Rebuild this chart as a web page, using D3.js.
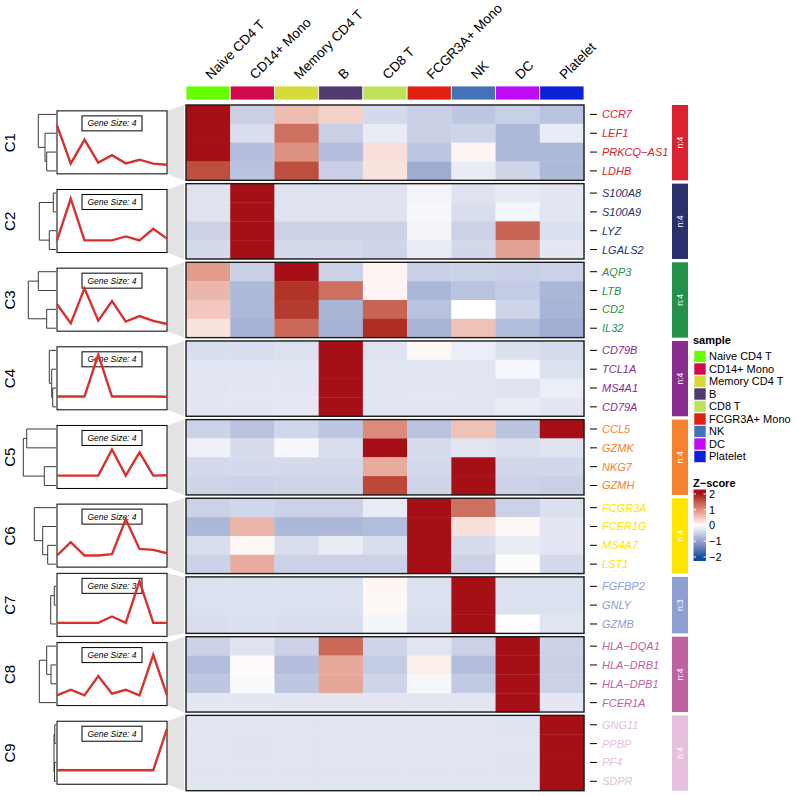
<!DOCTYPE html>
<html>
<head>
<meta charset="utf-8">
<script src="https://cdn.jsdelivr.net/npm/d3@7"></script>
<style>
  html, body { margin: 0; padding: 0; background: #fff; }
  svg { display: block; font-family: "Liberation Sans", Arial, Helvetica, sans-serif; }
</style>
</head>
<body>
<svg id="chart" width="798" height="796"></svg>
<script>
// ---------------- DATA ----------------
const samples = ["Naive CD4 T", "CD14+ Mono", "Memory CD4 T", "B", "CD8 T", "FCGR3A+ Mono", "NK", "DC", "Platelet"];
const sampleColors = ["#66FF00", "#D10A4C", "#D4DB3A", "#4F3A72", "#BEE35A", "#E02010", "#4472B6", "#C10BF7", "#0C20D8"];

const clusterNames = ["C1", "C2", "C3", "C4", "C5", "C6", "C7", "C8", "C9"];
const clusterColors = ["#DC2230", "#2B2F6C", "#23914A", "#8A2D8F", "#F5822E", "#FFE400", "#8C9ED2", "#BE62A2", "#E6C0DD"];

const clusterGenes = [
  ["CCR7", "LEF1", "PRKCQ\u2212AS1", "LDHB"],
  ["S100A8", "S100A9", "LYZ", "LGALS2"],
  ["AQP3", "LTB", "CD2", "IL32"],
  ["CD79B", "TCL1A", "MS4A1", "CD79A"],
  ["CCL5", "GZMK", "NKG7", "GZMH"],
  ["FCGR3A", "FCER1G", "MS4A7", "LST1"],
  ["FGFBP2", "GNLY", "GZMB"],
  ["HLA\u2212DQA1", "HLA\u2212DRB1", "HLA\u2212DPB1", "FCER1A"],
  ["GNG11", "PPBP", "PF4", "SDPR"]
];

// z-scores, rows = genes (cluster order), columns = samples
const zC1 = [
  [2.5, -0.5, 0.6, 0.4, -0.4, -0.5, -0.6, -0.5, -0.65],
  [2.5, -0.35, 1.3, -0.5, -0.2, -0.5, -0.45, -0.75, -0.2],
  [2.5, -0.7, 1.0, -0.7, 0.3, -0.6, 0.08, -0.75, -0.75],
  [1.6, -0.65, 1.6, -0.5, 0.25, -0.9, -0.2, -0.45, -0.75]
];
const zC2 = [
  [-0.3, 2.6, -0.3, -0.3, -0.3, -0.12, -0.3, -0.22, -0.25],
  [-0.3, 2.6, -0.3, -0.3, -0.3, -0.08, -0.35, -0.1, -0.27],
  [-0.48, 2.6, -0.48, -0.48, -0.48, -0.12, -0.48, 1.4, -0.33],
  [-0.4, 2.6, -0.4, -0.4, -0.45, -0.2, -0.42, 0.85, -0.25]
];
const zC3 = [
  [0.9, -0.5, 2.5, -0.48, 0.1, -0.5, -0.48, -0.5, -0.47],
  [0.65, -0.75, 1.8, 1.3, 0.08, -0.78, -0.65, -0.55, -0.78],
  [0.5, -0.75, 1.75, -0.8, 1.4, -0.65, 0.0, -0.45, -0.8],
  [0.25, -0.82, 1.35, -0.82, 1.85, -0.8, 0.55, -0.72, -0.88]
];
const zC4 = [
  [-0.35, -0.35, -0.32, 2.6, -0.3, 0.07, -0.18, -0.33, -0.38],
  [-0.27, -0.27, -0.27, 2.6, -0.27, -0.27, -0.28, -0.07, -0.32],
  [-0.26, -0.25, -0.25, 2.6, -0.26, -0.25, -0.26, -0.3, -0.18],
  [-0.25, -0.25, -0.24, 2.6, -0.26, -0.25, -0.26, -0.2, -0.25]
];
const zC5 = [
  [-0.47, -0.65, -0.43, -0.6, 1.05, -0.65, 0.55, -0.62, 2.6],
  [-0.15, -0.37, -0.07, -0.35, 2.6, -0.38, -0.28, -0.34, -0.3],
  [-0.4, -0.4, -0.4, -0.4, 0.75, -0.4, 2.6, -0.42, -0.42],
  [-0.45, -0.48, -0.45, -0.45, 1.65, -0.45, 2.1, -0.47, -0.5]
];
const zC6 = [
  [-0.48, -0.43, -0.48, -0.48, -0.2, 2.6, 1.3, -0.48, -0.33],
  [-0.77, 0.68, -0.77, -0.77, -0.72, 2.6, 0.27, 0.07, -0.25],
  [-0.35, 0.06, -0.35, -0.2, -0.35, 2.6, -0.37, -0.2, -0.25],
  [-0.47, 0.75, -0.48, -0.48, -0.48, 2.6, -0.48, 0.03, -0.4]
];
const zC7 = [
  [-0.32, -0.32, -0.32, -0.32, 0.08, -0.32, 2.6, -0.32, -0.32],
  [-0.32, -0.32, -0.32, -0.32, 0.07, -0.32, 2.6, -0.32, -0.32],
  [-0.35, -0.34, -0.35, -0.35, -0.1, -0.35, 2.6, 0.0, -0.28]
];
const zC8 = [
  [-0.48, -0.3, -0.48, 1.35, -0.45, -0.28, -0.48, 2.6, -0.47],
  [-0.7, 0.04, -0.7, 0.78, -0.55, 0.15, -0.7, 2.6, -0.5],
  [-0.6, -0.05, -0.6, 0.8, -0.45, -0.08, -0.57, 2.6, -0.48],
  [-0.25, -0.25, -0.26, -0.26, -0.26, -0.26, -0.26, 2.6, -0.25]
];
const zC9 = [
  [-0.28, -0.28, -0.28, -0.28, -0.28, -0.28, -0.28, -0.29, 2.6],
  [-0.28, -0.29, -0.28, -0.28, -0.28, -0.28, -0.28, -0.28, 2.6],
  [-0.28, -0.28, -0.28, -0.28, -0.28, -0.28, -0.28, -0.29, 2.6],
  [-0.28, -0.28, -0.28, -0.28, -0.28, -0.28, -0.28, -0.28, 2.6]
];
const clusterZ = [zC1, zC2, zC3, zC4, zC5, zC6, zC7, zC8, zC9];

// summary line (per cluster, per sample)
const lineC1 = [2.27, -0.47, 1.24, -0.4, 0.13, -0.45, -0.19, -0.47, -0.55];
const lineC2 = [-0.33, 2.65, -0.33, -0.33, -0.33, -0.05, -0.33, 0.5, -0.21];
const lineC3 = [0.72, -0.64, 1.86, -0.45, 0.95, -0.52, -0.12, -0.47, -0.69];
const lineC4 = [-0.25, -0.25, -0.25, 2.75, -0.25, -0.25, -0.25, -0.25, -0.27];
const lineC5 = [-0.28, -0.28, -0.28, -0.28, 1.58, -0.28, 1.38, -0.28, -0.26];
const lineC6 = [-0.37, 0.58, -0.37, -0.37, -0.28, 2.22, 0.1, 0.03, -0.21];
const lineC7 = [-0.24, -0.24, -0.24, -0.24, 0.22, -0.24, 2.75, -0.24, -0.24];
const lineC8 = [-0.47, -0.07, -0.47, 0.91, -0.35, -0.07, -0.47, 2.43, -0.47];
const lineC9 = [-0.2, -0.2, -0.2, -0.2, -0.2, -0.2, -0.2, -0.2, 2.75];
const clusterLines = [lineC1, lineC2, lineC3, lineC4, lineC5, lineC6, lineC7, lineC8, lineC9];

// dendrograms: [height, left, right], leaves = row indices
const dendroC1 = [17.7, 0, [11, 1, [9.3, 2, 3]]];
const dendroC2 = [16.7, [2.7, 0, 1], [6.7, 2, 3]];
const dendroC3 = [27.7, [17.7, 0, 1], [9.3, 2, 3]];
const dendroC4 = [6.7, 0, [4.3, 1, [3.3, 2, 3]]];
const dendroC5 = [32.7, [29.3, 0, 1], [11.7, 2, 3]];
const dendroC6 = [21.7, 0, [13.3, 1, [8.3, 2, 3]]];
const dendroC7 = [5.3, [1.7, 0, 1], 2];
const dendroC8 = [16.7, [9.3, 0, [5, 1, 2]], 3];
const dendroC9 = [2, [1.2, 0, 1], [1.5, 2, 3]];
const clusterDendro = [dendroC1, dendroC2, dendroC3, dendroC4, dendroC5, dendroC6, dendroC7, dendroC8, dendroC9];

const zTicks = [2, 1, 0, -1, -2];
const zTickLabels = ["2", "1", "0", "\u22121", "\u22122"];

// ---------------- DRAW ----------------
const svg = d3.select("#chart");
const fontMain = "'Liberation Sans', Arial, Helvetica, sans-serif";

const color = d3.scaleLinear().domain([-2, 0, 2])
  .range(["#08519C", "#FFFFFF", "#A50F15"])
  .interpolate(d3.interpolateLab).clamp(true);

const x = d3.scaleBand().domain(samples).range([186, 584]);

// slice layout
const top0 = 105, rowH = 18.83, gap = 3.33;
let acc = 0;
const slices = clusterGenes.map((g, i) => {
  const t = top0 + acc * rowH + i * gap;
  acc += g.length;
  const y = d3.scaleBand().domain(d3.range(g.length)).range([t, t + g.length * rowH]);
  return { top: t, bottom: t + g.length * rowH, y, i };
});

// column annotation
svg.append("g").selectAll("rect").data(samples).join("rect")
  .attr("x", d => x(d)).attr("y", 86).attr("width", x.bandwidth()).attr("height", 14)
  .attr("fill", (d, i) => sampleColors[i]).attr("stroke", "#fff").attr("stroke-width", 0.8);

// column labels
svg.append("g").selectAll("text").data(samples).join("text")
  .attr("transform", d => `translate(${x(d) + x.bandwidth() / 2 + 3},80) rotate(-45)`)
  .attr("font-size", 13.5).attr("font-family", fontMain).attr("fill", "#000")
  .text(d => d);

// line panel geometry
const px = d3.scalePoint().domain(samples).range([57, 167]);
const panelH = 63;
const dx = d3.scaleLinear().domain([0, 33]).range([56, 23]);

slices.forEach(s => {
  const ci = s.i;
  const g = svg.append("g");
  const rows = clusterZ[ci];
  // heatmap cells
  rows.forEach((row, r) => {
    g.selectAll(null).data(row).join("rect")
      .attr("x", (d, j) => x(samples[j])).attr("y", s.y(r))
      .attr("width", x.bandwidth() + 0.3).attr("height", s.y.bandwidth() + 0.3)
      .attr("fill", d => color(d));
  });
  g.append("rect").attr("x", 186).attr("y", s.top).attr("width", 398).attr("height", s.bottom - s.top)
    .attr("fill", "none").attr("stroke", "#1a1a1a").attr("stroke-width", 1.4);

  // gene ticks + labels
  clusterGenes[ci].forEach((gn, r) => {
    const cy = s.y(r) + s.y.bandwidth() / 2;
    g.append("line").attr("x1", 590).attr("x2", 597).attr("y1", cy).attr("y2", cy)
      .attr("stroke", "#000").attr("stroke-width", 1);
    g.append("text").attr("x", 602).attr("y", cy).attr("dy", "0.36em")
      .attr("font-size", 11).attr("font-style", "italic").attr("font-family", fontMain)
      .attr("fill", clusterColors[ci]).text(gn);
  });

  // cluster annotation bar
  g.append("rect").attr("x", 672).attr("y", s.top).attr("width", 16).attr("height", s.bottom - s.top)
    .attr("fill", clusterColors[ci]);
  g.append("text").attr("transform", `translate(680,${(s.top + s.bottom) / 2}) rotate(-90)`)
    .attr("text-anchor", "middle").attr("dy", "0.35em").attr("font-size", 8.5)
    .attr("fill", "#fff").attr("font-family", fontMain).text("n:" + clusterGenes[ci].length);

  // line panel
  const cmid = (s.top + s.bottom) / 2;
  const pTop = cmid - panelH / 2 - 0.3, pBot = pTop + panelH;
  g.append("path")
    .attr("d", `M167,${pTop}L184,${s.top}L184,${s.bottom}L167,${pBot}Z`)
    .attr("fill", "#E3E3E3");

  // dendrogram
  const leafY = r => s.y(r) + s.y.bandwidth() / 2;
  const dg = g.append("g").attr("stroke", "#3a3a3a").attr("stroke-width", 1).attr("fill", "none");
  function node(n) {
    if (typeof n === "number") return { y: leafY(n), h: 0 };
    const a = node(n[1]), b = node(n[2]);
    const xn = dx(n[0]);
    dg.append("path").attr("d", `M${dx(a.h)},${a.y}H${xn}V${b.y}H${dx(b.h)}`);
    return { y: (a.y + b.y) / 2, h: n[0] };
  }
  node(clusterDendro[ci]);

  g.append("rect").attr("x", 57).attr("y", pTop).attr("width", 110).attr("height", panelH)
    .attr("fill", "#fff").attr("stroke", "#000").attr("stroke-width", 1);
  // gene size box
  g.append("rect").attr("x", 82).attr("y", pTop + 5).attr("width", 60).attr("height", 15)
    .attr("fill", "#fff").attr("stroke", "#000").attr("stroke-width", 1);
  g.append("text").attr("x", 112).attr("y", pTop + 12.5).attr("dy", "0.35em")
    .attr("text-anchor", "middle").attr("font-size", 8.5).attr("font-style", "italic")
    .attr("font-family", fontMain).text("Gene Size: " + clusterGenes[ci].length);

  const py = d3.scaleLinear().domain([-1.2, 3.3]).range([pBot, pTop]);
  g.append("path").datum(clusterLines[ci])
    .attr("d", d3.line().x((d, j) => px(samples[j])).y(d => py(d)))
    .attr("fill", "none").attr("stroke", "#D6312F").attr("stroke-width", 2.4)
    .attr("stroke-linejoin", "miter");

  // cluster label
  g.append("text").attr("transform", `translate(10,${cmid}) rotate(-90)`)
    .attr("text-anchor", "middle").attr("dy", "0.35em").attr("font-size", 15)
    .attr("font-family", fontMain).text(clusterNames[ci]);
});

// ---------------- LEGENDS ----------------
const lg = svg.append("g");
lg.append("text").attr("x", 693).attr("y", 344).attr("font-size", 11).attr("font-weight", "bold")
  .attr("font-family", fontMain).text("sample");
const ly = d3.scaleBand().domain(samples).range([350.5, 350.5 + 12.5 * samples.length]);
lg.selectAll("rect.sw").data(samples).join("rect").attr("class", "sw")
  .attr("x", 694).attr("y", d => ly(d)).attr("width", 12).attr("height", 12)
  .attr("fill", (d, i) => sampleColors[i]).attr("stroke", "#fff").attr("stroke-width", 0.6);
lg.selectAll("text.sl").data(samples).join("text").attr("class", "sl")
  .attr("x", 709).attr("y", d => ly(d) + 6).attr("dy", "0.36em")
  .attr("font-size", 11).attr("font-family", fontMain).text(d => d);

lg.append("text").attr("x", 693).attr("y", 487).attr("font-size", 11).attr("font-weight", "bold")
  .attr("font-family", fontMain).text("Z\u2212score");
const zy = d3.scaleLinear().domain([-2, 2]).range([557, 494]);
const gradId = "zgrad";
const grad = svg.append("defs").append("linearGradient").attr("id", gradId)
  .attr("x1", 0).attr("x2", 0).attr("y1", 0).attr("y2", 1);
const gTop = 489.5, gBot = 561;
d3.range(0, 1.0001, 0.05).forEach(t => {
  const v = zy.invert(gTop + t * (gBot - gTop));
  grad.append("stop").attr("offset", t).attr("stop-color", color(v));
});
lg.append("rect").attr("x", 693.5).attr("y", gTop).attr("width", 12.5).attr("height", gBot - gTop)
  .attr("fill", `url(#${gradId})`);
zTicks.forEach((v, i) => {
  const yy = zy(v);
  lg.append("line").attr("x1", 693.5).attr("x2", 696).attr("y1", yy).attr("y2", yy)
    .attr("stroke", "#fff").attr("stroke-width", 1);
  lg.append("line").attr("x1", 703.5).attr("x2", 706).attr("y1", yy).attr("y2", yy)
    .attr("stroke", "#fff").attr("stroke-width", 1);
  lg.append("text").attr("x", 709).attr("y", yy).attr("dy", "0.36em").attr("font-size", 11)
    .attr("font-family", fontMain).text(zTickLabels[i]);
});
</script>
</body>
</html>
